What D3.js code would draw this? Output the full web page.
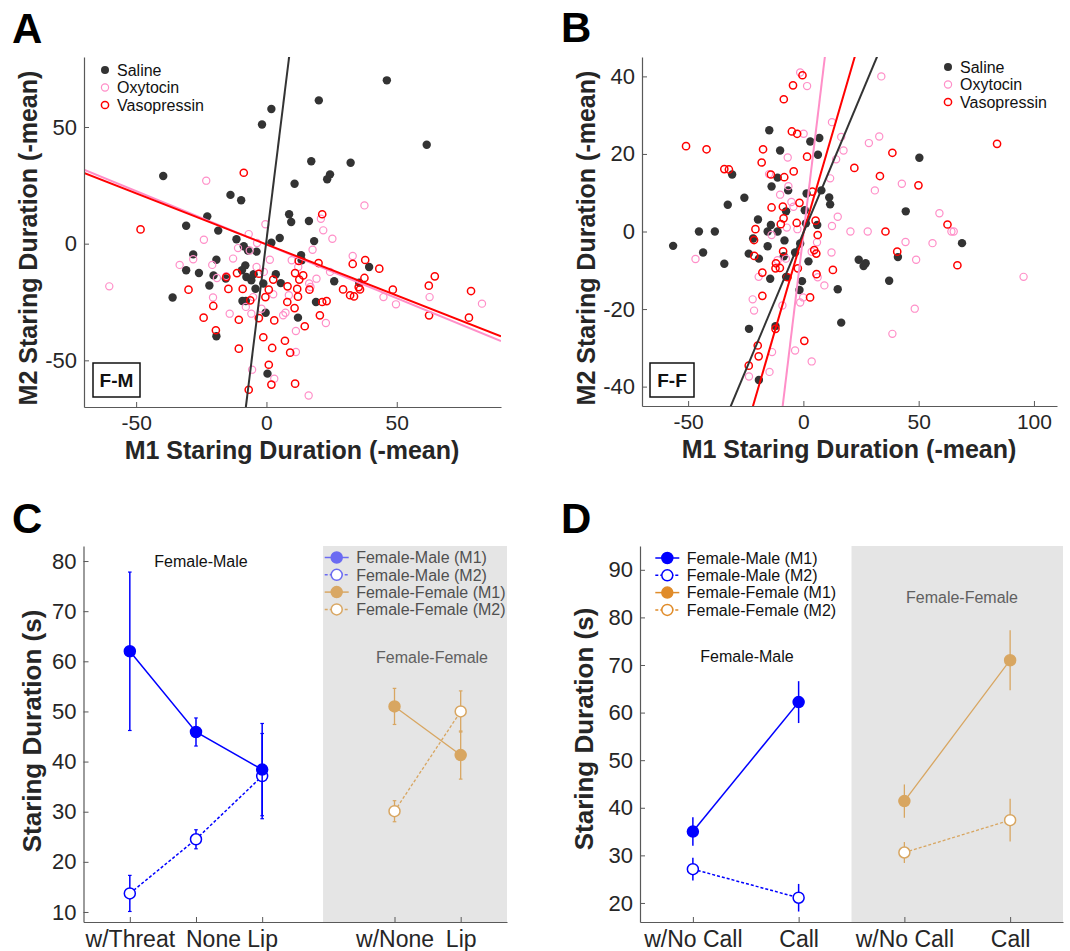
<!DOCTYPE html>
<html>
<head>
<meta charset="utf-8">
<script src="https://cdn.jsdelivr.net/npm/d3@7"></script>
<style>
body{margin:0;background:#fff}
text{font-family:"Liberation Sans",Arial,Helvetica,sans-serif}
</style>
</head>
<body>
<svg id="fig" width="1070" height="951"></svg>
<script>
// ---- panel A (F-M) scatter, [M1, M2] deviations from mean
const fmSaline = [[46.2,70],[20.1,61.4],[1.9,57.7],[-1.7,51.1],[61.5,42.4],[17.2,35.3],[32.3,34.7],[24.4,29.7],[23.3,27.6],[-39.6,29],
  [10.8,25.7],[-13.8,20.9],[-9.7,18.6],[-22.7,11.7],[-30.8,7.7],[8.7,12.6],[9.5,9.3],[16.3,9.7],[-18.5,5.6],[-11.5,1.9],
  [1.9,0.4],[5.1,2.4],[18.3,1.1],[-8.7,-1.1],[-3.8,-3.4],[-7.1,-2.9],[-28.1,-4.6],[-19.2,-6.9],[13.3,-4.9],[13.5,-7.1],
  [-30.8,-11.4],[-25.9,-12.6],[-20.3,-13.6],[-15.6,-14.9],[-8.1,-9.3],[-9.4,-11.4],[-7.7,-14.3],[-5.8,-15.7],[-4.9,-13.1],[3.6,-13.1],
  [-1.2,-17.1],[5.5,-16.9],[-21.9,-17.9],[-4.2,-19.3],[-36,-23.1],[26,-16.1],[35.6,-16.7],[39.4,-10],[-9.2,-24.6],[-7.9,-24.6],
  [-0.3,-29.6],[19,-25],[12.1,-31.7],[-19.2,-39.7],[0.4,-55.7]];
const fmOxytocin = [[-60.3,-18.3],[-23.1,27],[37.6,16.4],[-0.4,8.3],[-6.8,4.1],[20.9,10.7],[21.8,5.7],[25.3,2.1],[-24,1.7],[-10.9,-1.9],
  [-6.4,-2.9],[-3.6,0.3],[17.7,-2.6],[-12.8,-6.4],[-28.1,-6.7],[-33.3,-9.1],[-20.8,-9.1],[1.3,-6.9],[9.7,-7.1],[12.2,-10],
  [33.1,-5.3],[24.4,-12.1],[19.2,-15],[-19,-14.7],[-15.4,-13.9],[-1,-12.1],[-3.8,-10],[16.4,-17.1],[16.9,-18.6],[-5.1,-22.9],
  [-7.9,-27.1],[-5.8,-30],[-1.9,-27.9],[-14.1,-30],[-20.5,-23.1],[2.6,-21.7],[6.4,-30.7],[7.3,-29.6],[8.6,-22.1],[11.3,-37.4],
  [11.3,-46.4],[22.8,-34],[44.9,-22.9],[49.7,-26],[62.6,-22.9],[82.7,-25.7],[-5.5,-54],[3,-57.9],[16.2,-65.1]];
const fmVasopressin = [[-48.3,6.1],[-8.7,30.4],[21.4,12.6],[12.4,-7.4],[20,-8.3],[33.1,-8.7],[37.9,-7],[43.3,-10.7],[11,-12.6],[14.1,-13.6],
  [12.6,-15.4],[2.6,-15.4],[-2.9,-12.9],[-11.3,-12.6],[-15.4,-14.3],[-29.9,-19.7],[-14.6,-19.4],[-9.1,-19.4],[0.9,-19.7],[8.1,-18.3],
  [11.8,-19.4],[16.5,-19.7],[12.1,-22.7],[-0.4,-22.9],[-6.2,-24.3],[8,-25],[-20.4,-26.7],[10.8,-27.6],[21.4,-25],[23.1,-24.6],
  [29.4,-19.6],[32.1,-22.1],[33.6,-22.6],[35.4,-18.6],[35.9,-19.6],[37.6,-14.7],[48.5,-19.7],[62.3,-18],[64.6,-14],[78.5,-20.3],
  [62.4,-30.7],[77.7,-31.7],[-24.1,-31.7],[-10.6,-32.6],[-2.9,-31.9],[3,-32.9],[20.5,-30.7],[14.7,-35.4],[-19.4,-37.1],[-1.2,-40.1],
  [7.1,-41.6],[2.2,-44.7],[-10.6,-45],[9.1,-46.7],[0.9,-51.9],[1.9,-60.4],[11,-60],[-6.8,-62.6]];
// fitted lines: saline, oxytocin, vasopressin
const fmSlope = [9.04, -0.459, -0.438];
const fmIntercept = [1.4, -0.4, -0.3];

// ---- panel B (F-F) scatter
const ffSaline = [[-56.5,-3.7],[-45.3,0],[-38.4,0],[-43.5,-5.4],[-34.3,-8.3],[-32.8,6.9],[-30.9,14.7],[-25.6,8.7],[-23.7,-5.7],[-21.8,-1.8],
  [-19.3,-7],[-19.7,3.1],[-14.8,26.1],[-10.1,20.9],[-13.8,11.6],[-11.2,13.9],[-6.6,10.6],[-7.5,5.2],[-14.1,1.7],[-15.5,0],
  [-11.2,0],[-15.5,-3.8],[-8.2,-2.3],[-8.5,-6.4],[-3.6,-5.4],[-1.4,-3.1],[-14.4,-12.2],[-7.5,-11.7],[-0.6,-12.8],[-1.7,-15.1],
  [2.2,-7.7],[0.6,5.5],[1.4,9.8],[1.1,2.1],[6,1.7],[3,23.2],[6.3,19.8],[6.9,24.1],[7.8,10.6],[11.2,8.8],
  [11.6,7],[14.9,-14.9],[16.4,-23.5],[24,-7.3],[26.1,-8.9],[27,-8.2],[37.2,-12.7],[41,-6.6],[44.4,5.2],[50.3,19],
  [68.8,-3],[-23.6,-25.1],[-12.1,-24.4],[-19.3,-38.3]];
const ffOxytocin = [[-46.8,-7.1],[-1.4,41],[1.6,37.5],[33.8,40],[12.4,28.2],[16.4,24.4],[17.4,20.9],[14.2,18.6],[28.4,22.8],[32.9,24.5],
  [0.1,25.2],[-6.8,19.1],[-14.9,14.8],[-6.5,11.7],[-10.1,9.5],[-5.2,7.6],[-4.3,6.4],[11.6,13.7],[31,10.6],[42.7,12.3],
  [14.9,3.8],[12.4,1.4],[20.4,0],[27.9,0],[59,4.7],[64.2,0],[65.2,0],[44.3,-2.7],[56,-3],[48.9,-7.3],
  [95.5,-11.7],[48.3,-19.9],[38.6,-26.4],[12.2,-5.4],[5.9,-2.8],[3.6,-5.2],[6.2,-11.8],[9.1,-13.9],[-7.2,1],[-13.8,-0.9],
  [-2.6,0.6],[-19.4,-11.7],[-22,-17.5],[-21.4,-20.4],[-9.1,-19.1],[-1.4,-18.3],[-0.1,-17],[-13.6,-31.1],[-14.7,-36.2],[-23.6,-37.4],
  [-3.6,-30.7],[3.6,-33.5],[-7.6,-7],[-11.2,-7.4]];
const ffVasopressin = [[-50.9,22],[-42,21.2],[-34.3,16.1],[-32.3,16],[-8.5,34.1],[-4.5,37.7],[-0.4,40.3],[-5,25.8],[-2.7,25.2],[-17.5,21.2],
  [-18.1,17.8],[-14.1,14.7],[-8.3,14],[-4.2,15.5],[1.6,19.3],[22.1,16.4],[33.2,14.3],[38.6,20.3],[49.9,11.9],[84,22.6],
  [62.5,1.8],[66.8,-8.7],[35.6,0],[40.7,-5.2],[12.8,-9.9],[3.9,10.3],[-1.7,7.4],[-8.9,6.4],[-13.8,6.2],[-8.6,3.4],
  [-9.8,1.9],[-2.9,2.2],[5.3,2.8],[6.2,-0.9],[-20.8,0.6],[-21.4,-2.2],[-21.3,-6.3],[-8.8,-5.1],[-11.9,-8.2],[-10.2,-9.4],
  [-12.1,-9.5],[-17.8,-10.6],[-6.9,-11.8],[-2.4,-9.5],[4.7,-4.8],[5.6,-5.7],[5.7,-11],[2.9,-17],[-17.8,-16.6],[-12.1,-25.1],
  [-19.8,-29.4],[-19.4,-32.2],[-23.7,-34.6],[0.4,-28.2]];
const ffSlope = [1.42, 4.92, 2.04];
const ffIntercept = [-0.3, -0.8, -0.4];

const treatments = ["Saline", "Oxytocin", "Vasopressin"];

// ---- panel C: lip smacking
const cCategories = ["w/Threat", "None", "Lip", "w/None", "Lip"];
const cTickPos = [1, 2, 3, 5, 6];
const cFmPos = [1, 2, 3];
const cFmM1 = [62.0, 45.9, 38.4];
const cFmM1Err = [15.8, 2.8, 9.2];
const cFmM2 = [13.7, 24.5, 37.1];
const cFmM2Err = [3.6, 1.9, 8.5];
const cFfPos = [5, 6];
const cFfM1 = [51.0, 41.3];
const cFfM1Err = [3.6, 4.8];
const cFfM2 = [30.1, 50.0];
const cFfM2Err = [2.1, 4.1];

// ---- panel D: calls
const dCategories = ["w/No Call", "Call", "w/No Call", "Call"];
const dTickPos = [1, 2, 3, 4];
const dFmPos = [1, 2];
const dFmM1 = [35.0, 62.2];
const dFmM1Err = [3.0, 4.4];
const dFmM2 = [27.1, 21.1];
const dFmM2Err = [2.4, 2.9];
const dFfPos = [3, 4];
const dFfM1 = [41.4, 71.0];
const dFfM1Err = [3.5, 6.3];
const dFfM2 = [30.6, 37.4];
const dFfM2Err = [2.2, 4.5];

const legendNames = ["Female-Male (M1)", "Female-Male (M2)", "Female-Female (M1)", "Female-Female (M2)"];

const svg = d3.select("#fig");
const AXIS = "#595959", TXT = "#262626";
const BLUE = "#0000ff", TAN = "#d8a661";
const treatColor = ["#333333", "#ff8fc8", "#ff0000"];

function axes(g, x, y, o){
  const xa = g.append("g").attr("transform", `translate(0,${y.range()[0]})`)
    .call(d3.axisBottom(x).tickValues(o.xTicks).tickSizeInner(-5).tickSizeOuter(0)
      .tickPadding(o.xPad).tickFormat(o.xFmt || (d => String(d))));
  const ya = g.append("g").attr("transform", `translate(${x.range()[0]},0)`)
    .call(d3.axisLeft(y).tickValues(o.yTicks).tickSizeInner(-5).tickSizeOuter(0)
      .tickPadding(o.yPad).tickFormat(d => String(d)));
  for (const a of [xa, ya]) {
    a.attr("color", AXIS);
    a.select(".domain").attr("stroke-width", 1.2);
    a.selectAll("text").attr("fill", TXT);
  }
  xa.selectAll("text").style("font-size", o.xFont + "px");
  ya.selectAll("text").style("font-size", o.yFont + "px");
  if (o.xShift) xa.selectAll("text").attr("dx", (d, i) => o.xShift[i] || 0);
}

function axisLabels(o){
  if (o.xText) svg.append("text").attr("x", o.xl[0]).attr("y", o.xl[1]).attr("text-anchor", "middle")
    .style("font-size", o.lf + "px").style("font-weight", "bold").attr("fill", TXT).text(o.xText);
  svg.append("text").attr("transform", `translate(${o.yl[0]},${o.yl[1]}) rotate(-90)`).attr("text-anchor", "middle")
    .style("font-size", o.lf + "px").style("font-weight", "bold").attr("fill", TXT).text(o.yText);
}

function panelLetter(t, x, y){
  svg.append("text").attr("x", x).attr("y", y).style("font-size", "42px").style("font-weight", "bold")
    .attr("fill", "#000").text(t);
}

function scatterPanel(o){
  const x = d3.scaleLinear().domain(o.xDomain).range(o.xRange);
  const y = d3.scaleLinear().domain(o.yDomain).range(o.yRange);
  const g = svg.append("g");
  const clipId = "clip-" + o.id;
  g.append("clipPath").attr("id", clipId).append("rect")
    .attr("x", o.xRange[0]).attr("y", o.yRange[1])
    .attr("width", o.xRange[1] - o.xRange[0]).attr("height", o.yRange[0] - o.yRange[1]);
  const plot = g.append("g").attr("clip-path", `url(#${clipId})`);

  o.series.forEach((pts, i) => {
    plot.append("g").selectAll("circle").data(pts).join("circle")
      .attr("cx", d => x(d[0])).attr("cy", d => y(d[1]))
      .attr("r", i === 0 ? 4.2 : 3.6)
      .attr("fill", i === 0 ? treatColor[0] : "none")
      .attr("stroke", i === 0 ? "none" : treatColor[i])
      .attr("stroke-width", i === 1 ? 1.2 : 1.5);
  });
  // regression lines, drawn across the x domain and clipped
  [1, 2, 0].forEach(i => {
    const xs = o.xDomain;
    plot.append("line")
      .attr("x1", x(xs[0])).attr("y1", y(o.slope[i] * xs[0] + o.intercept[i]))
      .attr("x2", x(xs[1])).attr("y2", y(o.slope[i] * xs[1] + o.intercept[i]))
      .attr("stroke", treatColor[i]).attr("stroke-width", 2);
  });

  axes(g, x, y, {xTicks: o.xTicks, yTicks: o.yTicks, xPad: 8, yPad: 7, xFont: 21, yFont: 22});

  // legend
  const lg = g.append("g");
  treatments.forEach((t, i) => {
    const yy = o.legend[1] + i * 17.5;
    lg.append("circle").attr("cx", o.legend[0]).attr("cy", yy).attr("r", i === 0 ? 4 : 3.6)
      .attr("fill", i === 0 ? treatColor[0] : "none").attr("stroke", i === 0 ? "none" : treatColor[i])
      .attr("stroke-width", i === 1 ? 1.2 : 1.5);
    lg.append("text").attr("x", o.legend[0] + 12).attr("y", yy).attr("dy", "0.36em")
      .style("font-size", "16px").attr("fill", "#111").text(t);
  });

  // pair tag box
  const b = o.tag;
  g.append("rect").attr("x", b[0]).attr("y", b[1]).attr("width", b[2]).attr("height", b[3])
    .attr("fill", "#fff").attr("stroke", "#111").attr("stroke-width", 1.5);
  g.append("text").attr("x", b[0] + b[2] / 2).attr("y", b[1] + b[3] / 2).attr("dy", "0.36em")
    .attr("text-anchor", "middle").style("font-size", "19px").style("font-weight", "bold")
    .attr("fill", "#111").text(o.tagText);
}

function linePanel(o){
  const x = d3.scaleLinear().domain(o.xDomain).range(o.xRange);
  const y = d3.scaleLinear().domain(o.yDomain).range(o.yRange);
  const g = svg.append("g");
  g.append("rect").attr("x", x(o.shade)).attr("y", o.yRange[1])
    .attr("width", o.xRange[1] - x(o.shade)).attr("height", o.yRange[0] - o.yRange[1])
    .attr("fill", "#e5e5e5");

  const line = d3.line().x(d => x(d[0])).y(d => y(d[1]));
  o.groups.forEach(s => {
    const pts = s.pos.map((p, i) => [p, s.vals[i], s.err[i]]);
    const sg = g.append("g");
    sg.append("path").attr("d", line(pts)).attr("fill", "none").attr("stroke", s.color)
      .attr("stroke-width", s.lw).attr("stroke-dasharray", s.filled ? null : "3,2");
    sg.selectAll(".eb").data(pts).join("line").attr("class", "eb")
      .attr("x1", d => x(d[0])).attr("x2", d => x(d[0]))
      .attr("y1", d => y(d[1] - d[2])).attr("y2", d => y(d[1] + d[2]))
      .attr("stroke", s.color).attr("stroke-width", s.lw);
    sg.selectAll(".cap").data(pts.flatMap(d => [d[1] - d[2], d[1] + d[2]].map(v => [d[0], v]))).join("line")
      .attr("class", "cap")
      .attr("x1", d => x(d[0]) - o.cap).attr("x2", d => x(d[0]) + o.cap)
      .attr("y1", d => y(d[1])).attr("y2", d => y(d[1]))
      .attr("stroke", s.color).attr("stroke-width", 1.2);
    sg.selectAll("circle").data(pts).join("circle")
      .attr("cx", d => x(d[0])).attr("cy", d => y(d[1])).attr("r", 5.5)
      .attr("fill", s.filled ? s.color : "#fff").attr("stroke", s.color).attr("stroke-width", 1.5);
  });

  axes(g, x, y, {xTicks: o.xTicks, yTicks: d3.range(o.yTickStart, o.yTickEnd + 1, 10), xPad: 9, yPad: 7,
    xFont: 23, yFont: 22, xFmt: (d, i) => o.xLabels[i], xShift: o.xShift});

  // legend
  const lg = g.append("g");
  legendNames.forEach((t, i) => {
    const c = i < 2 ? o.legendColors[0] : o.legendColors[1];
    const filled = i % 2 === 0;
    const yy = o.legend[1] + i * 17.3;
    lg.append("line").attr("x1", o.legend[0] - 12).attr("x2", o.legend[0] + 12).attr("y1", yy).attr("y2", yy)
      .attr("stroke", c).attr("stroke-width", 1.5).attr("stroke-dasharray", filled ? null : "3,2");
    lg.append("circle").attr("cx", o.legend[0]).attr("cy", yy).attr("r", 5.5)
      .attr("fill", filled ? c : "#fff").attr("stroke", c).attr("stroke-width", 1.5);
    lg.append("text").attr("x", o.legend[0] + 19.5).attr("y", yy).attr("dy", "0.36em")
      .style("font-size", "16px").attr("fill", o.legendText).text(t);
  });

  o.notes.forEach(n => {
    g.append("text").attr("x", n.x).attr("y", n.y).attr("text-anchor", "middle")
      .style("font-size", "16px").attr("fill", n.c).text(n.t);
  });
}

// ---------- A
panelLetter("A", 12, 43);
scatterPanel({id: "a", xDomain: [-70, 90], xRange: [84, 501], yDomain: [-70, 80], yRange: [407, 57],
  xTicks: [-50, 0, 50], yTicks: [-50, 0, 50],
  series: [fmSaline, fmOxytocin, fmVasopressin], slope: fmSlope, intercept: fmIntercept,
  legend: [105, 70], tag: [93, 363, 47, 34], tagText: "F-M"});
axisLabels({xl: [292, 459], yl: [37, 238], lf: 25, xText: "M1 Staring Duration (-mean)", yText: "M2 Staring Duration (-mean)"});

// ---------- B
panelLetter("B", 561, 42);
scatterPanel({id: "b", xDomain: [-70, 110], xRange: [642, 1057], yDomain: [-45, 45], yRange: [406, 57],
  xTicks: [-50, 0, 50, 100], yTicks: [-40, -20, 0, 20, 40],
  series: [ffSaline, ffOxytocin, ffVasopressin], slope: ffSlope, intercept: ffIntercept,
  legend: [948, 67], tag: [650, 363, 44, 34], tagText: "F-F"});
axisLabels({xl: [849, 458], yl: [595, 238], lf: 25, xText: "M1 Staring Duration (-mean)", yText: "M2 Staring Duration (-mean)"});

// ---------- C
panelLetter("C", 12, 533);
linePanel({xDomain: [0.3, 6.7], xRange: [83.5, 507], yDomain: [8, 83], yRange: [922, 546],
  shade: 3.92, xTicks: cTickPos, xLabels: cCategories, xShift: [0, 17, 0, 0, 0],
  yTickStart: 10, yTickEnd: 80, cap: 1.8,
  groups: [
    {pos: cFmPos, vals: cFmM2, err: cFmM2Err, color: BLUE, filled: false, lw: 1.5},
    {pos: cFmPos, vals: cFmM1, err: cFmM1Err, color: BLUE, filled: true, lw: 1.5},
    {pos: cFfPos, vals: cFfM2, err: cFfM2Err, color: TAN, filled: false, lw: 1.3},
    {pos: cFfPos, vals: cFfM1, err: cFfM1Err, color: TAN, filled: true, lw: 1.3}],
  legend: [336.7, 557.5], legendColors: ["#6b6bf2", "#d9a865"], legendText: "#505050",
  notes: [{t: "Female-Male", x: 201, y: 567, c: "#111"}, {t: "Female-Female", x: 432, y: 663, c: "#606060"}]});
axisLabels({yl: [41, 731], lf: 26, yText: "Staring Duration (s)"});

// ---------- D
panelLetter("D", 561, 533);
linePanel({xDomain: [0.5, 4.5], xRange: [640, 1063], yDomain: [16, 95], yRange: [922, 546],
  shade: 2.5, xTicks: dTickPos, xLabels: dCategories, yTickStart: 20, yTickEnd: 90, cap: 0,
  groups: [
    {pos: dFmPos, vals: dFmM2, err: dFmM2Err, color: BLUE, filled: false, lw: 1.5},
    {pos: dFmPos, vals: dFmM1, err: dFmM1Err, color: BLUE, filled: true, lw: 1.5},
    {pos: dFfPos, vals: dFfM2, err: dFfM2Err, color: TAN, filled: false, lw: 1.3},
    {pos: dFfPos, vals: dFfM1, err: dFfM1Err, color: TAN, filled: true, lw: 1.3}],
  legend: [667.3, 558], legendColors: [BLUE, "#e08c2a"], legendText: "#111",
  notes: [{t: "Female-Male", x: 747, y: 662, c: "#111"}, {t: "Female-Female", x: 962, y: 603, c: "#606060"}]});
axisLabels({yl: [593, 729], lf: 26, yText: "Staring Duration (s)"});
</script>
</body>
</html>
